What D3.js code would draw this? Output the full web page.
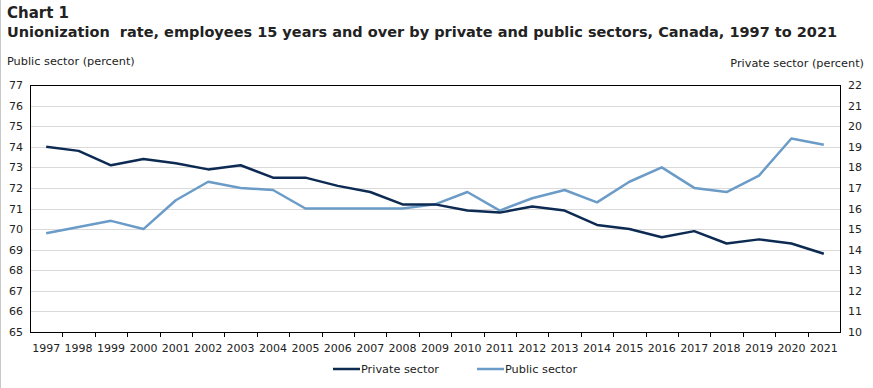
<!DOCTYPE html>
<html>
<head>
<meta charset="utf-8">
<script src="https://cdn.jsdelivr.net/npm/d3@7"></script>
<style>
  body { margin: 0; background: #fff; }
  svg text { font-family: "DejaVu Sans", Verdana, sans-serif; fill: #222; }
  .grid line { stroke: #d9d9d9; }
</style>
</head>
<body>
<div id="plotDiv"></div>
<script>
var years = ["1997","1998","1999","2000","2001","2002","2003","2004","2005","2006","2007","2008","2009",
             "2010","2011","2012","2013","2014","2015","2016","2017","2018","2019","2020","2021"];
var privateSector = [19.0,18.8,18.1,18.4,18.2,17.9,18.1,17.5,17.5,17.1,16.8,16.2,16.2,
                     15.9,15.8,16.1,15.9,15.2,15.0,14.6,14.9,14.3,14.5,14.3,13.8];
var publicSector = [69.8,70.1,70.4,70.0,71.4,72.3,72.0,71.9,71.0,71.0,71.0,71.0,71.2,
                    71.8,70.9,71.5,71.9,71.3,72.3,73.0,72.0,71.8,72.6,74.4,74.1];
var leftTicks = [65,66,67,68,69,70,71,72,73,74,75,76,77];
var rightTicks = [10,11,12,13,14,15,16,17,18,19,20,21,22];

window.addEventListener("load", makeChart);

function makeChart() {
    var width = 873, height = 388;
    var plot = {left: 30, right: 840, top: 85, bottom: 332};

    var svg = d3.select("#plotDiv").append("svg")
        .attr("width", width)
        .attr("height", height);

    // faint page edge on the left
    svg.append("line")
        .attr("x1", 0.5).attr("x2", 0.5).attr("y1", 0).attr("y2", height)
        .attr("stroke", "#c8c8c8");

    svg.append("text").attr("x", 7).attr("y", 18)
        .style("font-size", "15px").style("font-weight", "bold")
        .text("Chart 1");
    svg.append("text").attr("x", 7).attr("y", 37)
        .style("font-size", "14.5px").style("font-weight", "bold")
        .text("Unionization\u00a0 rate, employees 15 years and over by private and public sectors, Canada, 1997 to 2021");

    svg.append("text").attr("x", 7).attr("y", 65)
        .style("font-size", "11.3px").text("Public sector (percent)");
    svg.append("text").attr("x", 864).attr("y", 67)
        .attr("text-anchor", "end")
        .style("font-size", "11.3px").text("Private sector (percent)");

    var x = d3.scaleBand().domain(years).range([plot.left, plot.right]);
    var yL = d3.scaleLinear().domain([65, 77]).range([plot.bottom, plot.top]);
    var yR = d3.scaleLinear().domain([10, 22]).range([plot.bottom, plot.top]);

    // gridlines
    svg.append("g").attr("class", "grid")
        .selectAll("line").data(leftTicks.slice(1, -1)).enter()
        .append("line")
        .attr("x1", plot.left).attr("x2", plot.right)
        .attr("y1", function(d) { return Math.round(yL(d)) + 0.5; })
        .attr("y2", function(d) { return Math.round(yL(d)) + 0.5; });

    // left axis labels
    svg.append("g").selectAll("text").data(leftTicks).enter()
        .append("text")
        .attr("x", 23).attr("y", function(d) { return yL(d) + 4; })
        .attr("text-anchor", "end")
        .style("font-size", "11px")
        .text(function(d) { return d; });

    // right axis labels
    svg.append("g").selectAll("text").data(rightTicks).enter()
        .append("text")
        .attr("x", 848).attr("y", function(d) { return yR(d) + 4; })
        .style("font-size", "11px")
        .text(function(d) { return d; });

    // year ticks at band boundaries
    svg.append("g").selectAll("line").data(years.slice(1)).enter()
        .append("line")
        .attr("x1", function(d) { return Math.round(x(d)) + 0.5; })
        .attr("x2", function(d) { return Math.round(x(d)) + 0.5; })
        .attr("y1", plot.bottom).attr("y2", plot.bottom + 5)
        .attr("stroke", "#000");

    svg.append("g").selectAll("text").data(years).enter()
        .append("text")
        .attr("x", function(d) { return x(d) + x.bandwidth() / 2; })
        .attr("y", 352)
        .attr("text-anchor", "middle")
        .style("font-size", "11px")
        .text(function(d) { return d; });

    // plot frame
    svg.append("rect")
        .attr("x", plot.left + 0.5).attr("y", plot.top + 0.5)
        .attr("width", plot.right - plot.left).attr("height", plot.bottom - plot.top)
        .attr("fill", "none").attr("stroke", "#000");

    var cx = function(d, i) { return x(years[i]) + x.bandwidth() / 2; };

    var publicLine = d3.line().x(cx).y(function(d) { return yL(d); });
    var privateLine = d3.line().x(cx).y(function(d) { return yR(d); });

    svg.append("path").datum(publicSector)
        .attr("d", publicLine)
        .attr("fill", "none").attr("stroke", "#6b9bc7").attr("stroke-width", 2.5)
        .attr("stroke-linejoin", "round");

    svg.append("path").datum(privateSector)
        .attr("d", privateLine)
        .attr("fill", "none").attr("stroke", "#0c2a52").attr("stroke-width", 2.5)
        .attr("stroke-linejoin", "round");

    // legend
    var legend = [
        {name: "Private sector", color: "#0c2a52", x: 333},
        {name: "Public sector", color: "#6b9bc7", x: 477}
    ];
    var lg = svg.append("g").selectAll("g").data(legend).enter().append("g");
    lg.append("line")
        .attr("x1", function(d) { return d.x; })
        .attr("x2", function(d) { return d.x + 27; })
        .attr("y1", 369).attr("y2", 369)
        .attr("stroke", function(d) { return d.color; })
        .attr("stroke-width", 2.5);
    lg.append("text")
        .attr("x", function(d) { return d.x + 28; })
        .attr("y", 373)
        .style("font-size", "11.3px")
        .text(function(d) { return d.name; });
}
</script>
</body>
</html>
